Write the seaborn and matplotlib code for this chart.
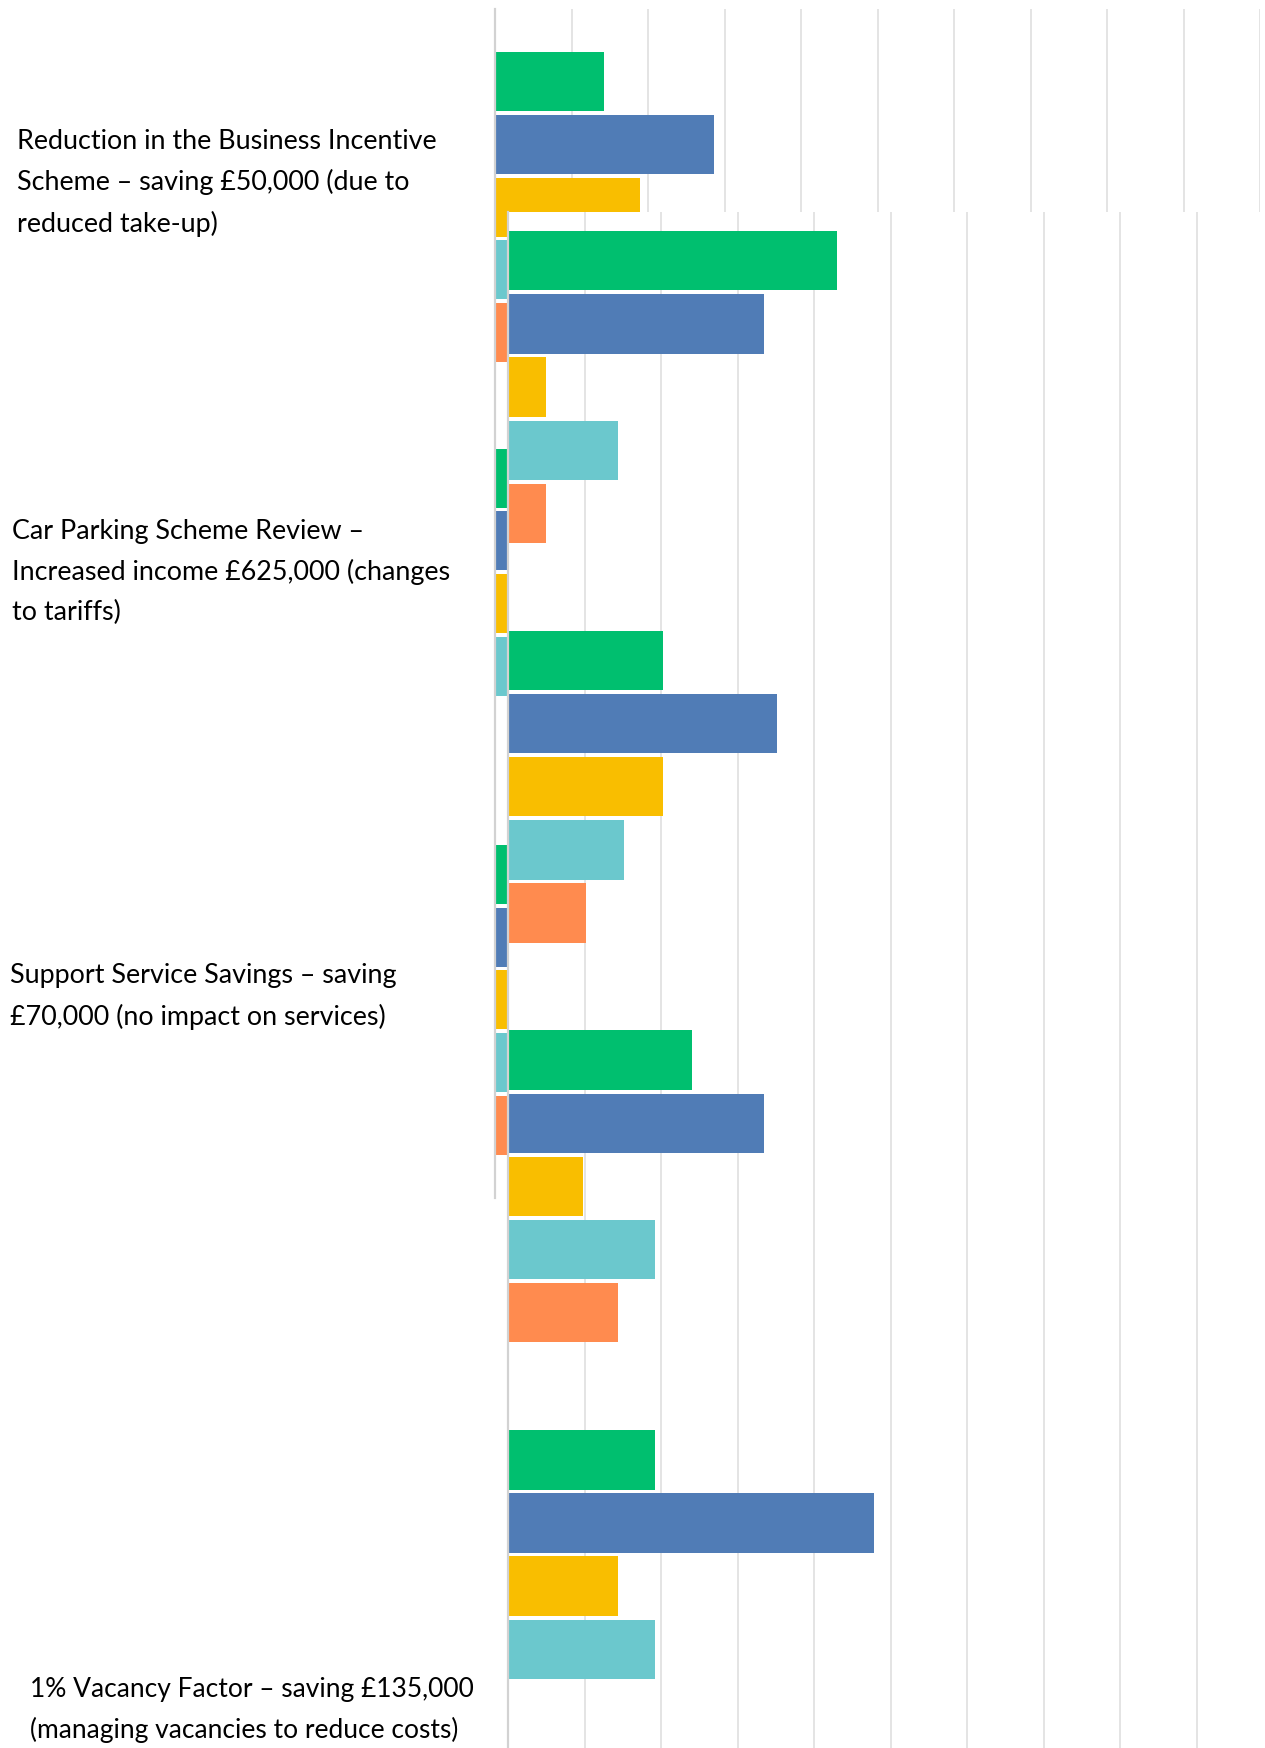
import matplotlib
matplotlib.use("Agg")
import matplotlib.pyplot as plt
import matplotlib.transforms as mtransforms
import pandas as pd
import seaborn as sns

# Survey answers (share of respondents, %) - two overlapping chart snapshots
responses = [
    "Strongly agree",
    "Agree",
    "Neither agree nor disagree",
    "Disagree",
    "Strongly disagree",
]
colours = ["#00BF6F", "#507CB6", "#F9BE00", "#6BC8CD", "#FF8B4F"]

back_labels = [
    "Reduction in the Business Incentive\nScheme – saving £50,000 (due to\nreduced take-up)",
    "Car Parking Scheme Review –\nIncreased income £625,000 (changes\nto tariffs)",
    "Support Service Savings – saving\n£70,000 (no impact on services)",
]
back_strongly_agree = [7.1, 11.9, 9.5]
back_agree = [14.3, 16.7, 19.0]
back_neutral = [9.5, 7.1, 9.5]
back_disagree = [7.1, 4.8, 7.1]
back_strongly_disagree = [4.8, 0.0, 4.8]

front_groups = ["Proposal A", "Proposal B", "Proposal C", "Proposal D"]
front_strongly_agree = [21.5, 10.1, 12.0, 9.6]
front_agree = [16.7, 17.6, 16.7, 23.9]
front_neutral = [2.5, 10.1, 4.9, 7.2]
front_disagree = [7.2, 7.6, 9.6, 9.6]
front_strongly_disagree = [2.5, 5.1, 7.2, 0.0]

vacancy_label = "1% Vacancy Factor – saving £135,000\n(managing vacancies to reduce costs)"


def to_long(groups, series):
    rows = []
    for resp, values in zip(responses, series):
        for g, v in zip(groups, values):
            rows.append({"Proposal": g, "Response": resp, "Percent": v})
    return pd.DataFrame(rows)


back_df = to_long(
    back_labels,
    [back_strongly_agree, back_agree, back_neutral, back_disagree, back_strongly_disagree],
)
front_df = to_long(
    front_groups,
    [front_strongly_agree, front_agree, front_neutral, front_disagree, front_strongly_disagree],
)

sns.set_theme(style="white")
plt.rcParams["font.family"] = ["Lato", "DejaVu Sans"]

W, H = 1265, 1748
fig = plt.figure(figsize=(W / 100, H / 100), dpi=100)

ax_back = fig.add_axes([495 / W, 1 - 1198 / H, 765 / W, (1198 - 9) / H])
ax_front = fig.add_axes([508 / W, 0, 765 / W, (H - 212) / H])


def style_axes(ax):
    ax.set_xlim(0, 50)
    ax.set_xticks(range(0, 51, 5))
    ax.xaxis.grid(True, color="#e4e4e4", linewidth=1.4)
    ax.set_axisbelow(True)
    ax.tick_params(axis="x", labelbottom=False, length=0)
    ax.tick_params(axis="y", length=0, pad=344, labelsize=19.4)
    for side in ["top", "right", "bottom"]:
        ax.spines[side].set_visible(False)
    ax.spines["left"].set_color("#d2d2d2")
    ax.spines["left"].set_linewidth(1.6)
    ax.set_xlabel("")
    ax.set_ylabel("")


for ax, df in [(ax_back, back_df), (ax_front, front_df)]:
    sns.barplot(
        data=df,
        y="Proposal",
        x="Percent",
        hue="Response",
        hue_order=responses,
        palette=colours,
        saturation=1,
        orient="h",
        width=0.79,
        gap=0.06,
        linewidth=0,
        errorbar=None,
        legend=False,
        ax=ax,
    )
    style_axes(ax)

ax_back.set_ylim(2.5, -0.5)
ax_back.set_yticks([-0.087, 0.895, 1.966], back_labels)

ax_front.set_zorder(2)
ax_front.patch.set_facecolor("white")
ax_front.set_ylim(3.405, -0.438)
ax_front.set_yticks([3.285], [vacancy_label])
ax_front.tick_params(axis="y", labelsize=19)

for ax in (ax_back, ax_front):
    for lab in ax.get_yticklabels():
        lab.set_horizontalalignment("left")
        lab.set_multialignment("left")
        lab.set_linespacing(1.72)
        lab.set_color("black")

# small horizontal nudges of the labels (in points)
for lab, dx in zip(ax_back.get_yticklabels(), [0, -4, -5]):
    lab.set_transform(lab.get_transform() + mtransforms.ScaledTranslation(dx / 72, 0, fig.dpi_scale_trans))

fig.savefig("out.png", dpi=100)
